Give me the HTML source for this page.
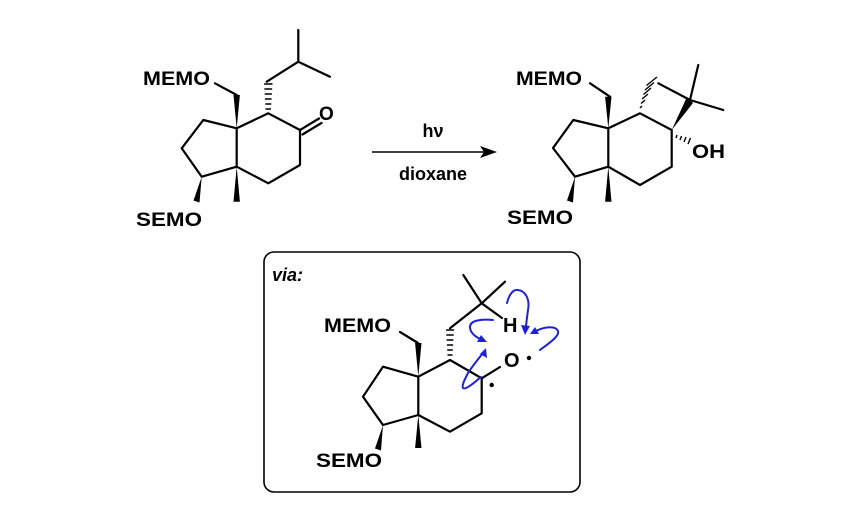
<!DOCTYPE html>
<html><head><meta charset="utf-8"><style>body{margin:0;background:#fff}svg{display:block}text{font-family:"Liberation Sans",Arial,sans-serif;font-weight:bold;fill:#000}</style></head><body>
<svg width="848" height="510" viewBox="0 0 848 510" xmlns="http://www.w3.org/2000/svg">
<g stroke="#000" stroke-width="2.2" fill="none" stroke-linejoin="round" stroke-linecap="round">
<path d="M236.7,128.3 L203.3,120 L181.7,148.3 L201.7,176.7 L236.7,166.7 Z"/>
<path d="M236.7,128.3 L268.3,113.3 L300,130 L300,165 L268.3,183.3 L236.7,166.7"/>
<path d="M300,130 L319,118.5 M302.5,134.5 L321.5,123"/>
<path d="M236.7,95 L215,83.3"/>
<path d="M266.7,81.7 L298.3,61.7 L298.3,30 M298.3,61.7 L330,76.7"/>
<path d="M608.3,128.3 L573.3,120 L553,148 L575,176.7 L608.3,166.7 Z"/>
<path d="M608.3,128.3 L640,113.3 L671.7,130 L671.7,166.7 L640,185 L608.3,166.7"/>
<path d="M658.3,83.3 L690,100 M690,100 L698.3,65 M690,100 L723.3,110"/>
<path d="M610,96.7 L590,83.3"/>
<path d="M418.3,376.7 L383,366.7 L363,396.7 L383,425 L418.3,415 Z"/>
<path d="M418.3,376.7 L450,360 L481.7,378.3 L481.7,413.3 L450,431.7 L418.3,415"/>
<path d="M481.7,378.3 L500,367"/>
<path d="M450,328.3 L481.7,303.3 L463.3,275 M481.7,303.3 L505,281.7 M481.7,303.3 L502,318"/>
<path d="M418,343 L400,332"/>
</g>
<g fill="#000">
<polygon points="236.7,128.3 233.5,95 239.9,95"/>
<polygon points="236.7,166.7 233.5,201.7 239.9,201.7"/>
<polygon points="201.7,176.7 193.5,200.5 199.5,202.5"/>
<polygon points="608.3,128.3 605.1,96.7 611.5,96.7"/>
<polygon points="608.3,166.7 605.1,201.7 611.5,201.7"/>
<polygon points="575,176.7 567,200.5 573,202.5"/>
<polygon points="671.7,130 687,97 693,103"/>
<polygon points="418.3,376.7 415.1,343 421.5,343"/>
<polygon points="418.3,415 415.1,448 421.5,448"/>
<polygon points="383,425 375,448.5 381,450.5"/>
</g>
<g stroke="#000" stroke-width="1.4">
<path d="M265.5,109 L271,109 M265.3,104 L271.3,104 M265,99 L271.6,99 M264.7,94 L271.9,94 M264.4,89 L272.2,89 M264.1,84 L272.5,84"/>
<path d="M640,108 L642,106 M641,103.5 L645,100 M642,99 L648,94 M643.5,94.5 L651,88 M645,90 L654,82.5 M646.5,85.5 L657,77"/>
<path d="M676,138 L677,135 M680,140 L681.5,136 M684,142 L686,137 M688,144 L690.5,138"/>
<path d="M447.5,355 L452.5,355 M447.2,350 L452.8,350 M446.9,345 L453.1,345 M446.6,340 L453.4,340 M446.3,335 L453.7,335 M446,330 L454,330"/>
</g>
<text x="143" y="85" font-size="19" textLength="67" lengthAdjust="spacingAndGlyphs">MEMO</text>
<text x="136" y="226" font-size="19" textLength="66" lengthAdjust="spacingAndGlyphs">SEMO</text>
<text x="319" y="120" font-size="19">O</text>
<text x="516" y="85" font-size="19" textLength="66" lengthAdjust="spacingAndGlyphs">MEMO</text>
<text x="507" y="224" font-size="19" textLength="66" lengthAdjust="spacingAndGlyphs">SEMO</text>
<text x="692" y="158" font-size="19" textLength="33" lengthAdjust="spacingAndGlyphs">OH</text>
<text x="324" y="332" font-size="19" textLength="67" lengthAdjust="spacingAndGlyphs">MEMO</text>
<text x="316" y="467" font-size="19" textLength="66" lengthAdjust="spacingAndGlyphs">SEMO</text>
<text x="503" y="332" font-size="20">H</text>
<text x="504" y="367" font-size="20">O</text>
<circle cx="529" cy="358" r="2.2" fill="#000"/>
<circle cx="491.7" cy="385" r="2.2" fill="#000"/>
<line x1="372" y1="152" x2="485" y2="152" stroke="#000" stroke-width="1.6"/>
<polygon points="497,152 480,146 484,152 480,158" fill="#000"/>
<text x="433" y="137" font-size="18" text-anchor="middle">hν</text>
<text x="433" y="180" font-size="18" text-anchor="middle">dioxane</text>
<rect x="264" y="252" width="316" height="240" rx="10" ry="10" fill="none" stroke="#000" stroke-width="1.6"/>
<text x="272" y="281" font-size="18" font-style="italic">via:</text>
<g stroke="#1d22d6" stroke-width="2" fill="none" stroke-linecap="round">
<path d="M507,303 C509,295 513,289 518,290 C526,291 530,300 528,310 C527,318 526,324 526,328"/>
<path d="M493,320 C482,319 470,320 470,327 C470,334 478,338 482,340"/>
<path d="M540,350 C548,344 560,336 558,331 C556,326 546,326 536,331"/>
<path d="M483,353 C476,362 469,370 466,377 C462,385 461,390 466,388 C471,386 476,381 481,377"/>
</g>
<g fill="#1d22d6">
<polygon points="525,335 521,325 530,326"/>
<polygon points="487,342 477,342 481,335"/>
<polygon points="530,334 535,327 539,334"/>
<polygon points="486,348 487,358 480,354"/>
</g>
</svg>
</body></html>
